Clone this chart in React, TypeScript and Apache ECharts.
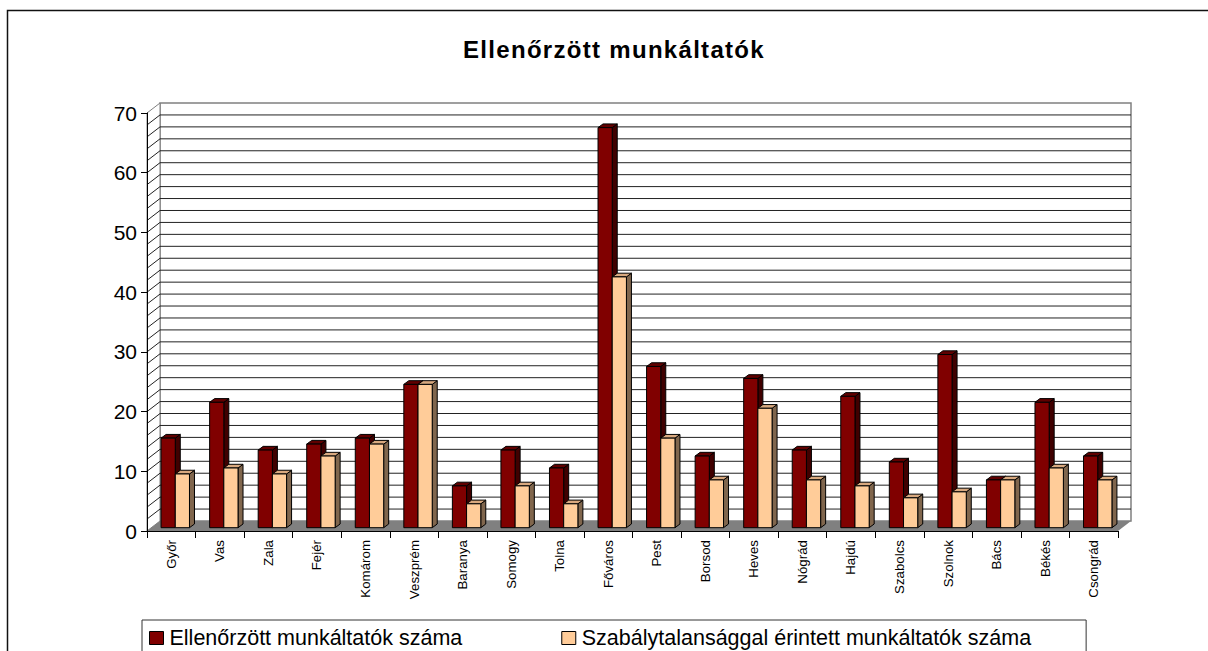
import React, { useEffect, useRef } from "react";
import * as echarts from "echarts";

const titleText = "Ellenőrzött munkáltatók";
const categories = ["Győr", "Vas", "Zala", "Fejér", "Komárom", "Veszprém", "Baranya", "Somogy", "Tolna", "Főváros", "Pest", "Borsod", "Heves", "Nógrád", "Hajdú", "Szabolcs", "Szolnok", "Bács", "Békés", "Csongrád"];
const seriesAName = "Ellenőrzött munkáltatók száma";
const seriesBName = "Szabálytalansággal érintett munkáltatók száma";
const seriesA = [15, 21, 13, 14, 15, 24, 7, 13, 10, 67, 27, 12, 25, 13, 22, 11, 29, 8, 21, 12];
const seriesB = [9, 10, 9, 12, 14, 24, 4, 7, 4, 42, 15, 8, 20, 8, 7, 5, 6, 8, 10, 8];
const gridValues = [2, 4, 6, 8, 10, 12, 14, 16, 18, 20, 22, 24, 26, 28, 30, 32, 34, 36, 38, 40, 42, 44, 46, 48, 50, 52, 54, 56, 58, 60, 62, 64, 66, 68];

const DX = 13;
const DY = -10;
const BAR_W = 14.2;
const BAR_DX0 = 4;
const BAR_DY0 = -3.3;
const BAR_DX1 = 9;
const BAR_DY1 = -7;

function barRenderer(side: number, front: string, top: string, right: string) {
  return (_params: any, api: any) => {
    const i = api.value(0);
    const v = api.value(1);
    const [cx, y1] = api.coord([i, v]);
    const [, y0] = api.coord([i, 0]);
    const xa = cx + BAR_DX0 + (side === 0 ? -BAR_W : 0);
    const xb = xa + BAR_W;
    const yt = y1 + BAR_DY0;
    const yb = y0 + BAR_DY0;
    const ddx = BAR_DX1 - BAR_DX0;
    const ddy = BAR_DY1 - BAR_DY0;
    const line = { stroke: "#000", lineWidth: 1 };
    return {
      type: "group",
      children: [
        { type: "polygon", shape: { points: [[xb, yt], [xb + ddx, yt + ddy], [xb + ddx, yb + ddy], [xb, yb]] }, style: { fill: right, ...line } },
        { type: "polygon", shape: { points: [[xa, yt], [xa + ddx, yt + ddy], [xb + ddx, yt + ddy], [xb, yt]] }, style: { fill: top, ...line } },
        { type: "rect", shape: { x: xa, y: yt, width: BAR_W, height: yb - yt }, style: { fill: front, ...line } },
      ],
    };
  };
}

export default function App() {
  const ref = useRef<HTMLDivElement>(null);
  useEffect(() => {
    document.body.style.margin = "0";
    const chart = echarts.init(ref.current!, null, { renderer: "svg" });
    const font = "Liberation Sans";
    chart.setOption({
      animation: false,
      backgroundColor: "#fff",
      title: {
        text: titleText,
        left: 609,
        top: 32,
        textAlign: "center",
        textStyle: { fontFamily: font, fontSize: 24, fontWeight: "bold", color: "#000" },
      },
      graphic: [
        { type: "rect", silent: true, z: -1, shape: { x: 7.5, y: 10.5, width: 1400, height: 900 }, style: { fill: "none", stroke: "#111", lineWidth: 1.5 } },
      ],
      legend: {
        left: 142,
        top: 620,
        orient: "horizontal",
        padding: [7, 55, 20, 7],
        itemGap: 99,
        itemWidth: 14,
        itemHeight: 13,
        borderColor: "#333",
        borderWidth: 1,
        textStyle: { fontFamily: font, fontSize: 21.5, color: "#000", padding: [0, 0, 0, 1] },
        data: [
          { name: seriesAName, icon: "rect", itemStyle: { color: "#800000", borderColor: "#000", borderWidth: 1 } },
          { name: seriesBName, icon: "rect", itemStyle: { color: "#FFCC99", borderColor: "#000", borderWidth: 1 } },
        ],
        selectedMode: false,
      },
      grid: { left: 147, top: 113, width: 971, height: 418 },
      xAxis: {
        type: "category",
        data: categories,
        z: 6,
        axisLine: { lineStyle: { color: "#000", width: 1 } },
        axisTick: { show: true, length: 7, alignWithLabel: false, lineStyle: { color: "#000" } },
        axisLabel: { rotate: 90, interval: 0, fontFamily: font, fontSize: 13.3, color: "#000", margin: 9 },
        splitLine: { show: false },
      },
      yAxis: {
        type: "value",
        min: 0,
        max: 70,
        interval: 10,
        z: 6,
        axisLine: { show: true, lineStyle: { color: "#000", width: 1 } },
        axisTick: { show: true, length: 6, lineStyle: { color: "#000" } },
        axisLabel: { fontFamily: font, fontSize: 21, color: "#000", margin: 10, padding: [2, 0, 0, 0] },
        splitLine: { show: false },
      },
      series: [
        {
          name: "wall",
          type: "custom",
          z: 1,
          silent: true,
          data: [[0, 70]],
          renderItem: (_p: any, api: any) => {
            const [x0, y0] = api.coord([0, 0]);
            const s = api.size([1, 0])[0];
            const x0Left = x0 - s / 2;
            const [, yT] = api.coord([0, 70]);
            const x1 = x0Left + s * categories.length;
            const wall = { stroke: "#808080", lineWidth: 1 };
            return {
              type: "group",
              children: [
                { type: "polygon", shape: { points: [[x0Left + DX, yT + DY], [x1 + DX, yT + DY], [x1 + DX, y0 + DY], [x0Left + DX, y0 + DY]] }, style: { fill: "#fff", ...wall, lineWidth: 1.5 } },
                { type: "polygon", shape: { points: [[x0Left, yT], [x0Left + DX, yT + DY], [x0Left + DX, y0 + DY], [x0Left, y0]] }, style: { fill: "#fff", ...wall } },
                { type: "polygon", shape: { points: [[x0Left, y0], [x1, y0], [x1 + DX, y0 + DY], [x0Left + DX, y0 + DY]] }, style: { fill: "#808080", stroke: "#000", lineWidth: 0 } },
              ],
            };
          },
        },
        {
          name: "gridlines",
          type: "custom",
          z: 2,
          silent: true,
          data: gridValues.map((v) => [0, v]),
          renderItem: (_p: any, api: any) => {
            const [cx, y] = api.coord([0, api.value(1)]);
            const s = api.size([1, 0])[0];
            const xl = cx - s / 2;
            const xr = xl + s * categories.length;
            const st = { stroke: "#222", lineWidth: 1 };
            return {
              type: "group",
              children: [
                { type: "line", shape: { x1: xl, y1: y, x2: xl + DX, y2: y + DY }, style: st },
                { type: "line", shape: { x1: xl + DX, y1: y + DY, x2: xr + DX, y2: y + DY }, style: st },
              ],
            };
          },
        },
        {
          name: seriesAName,
          type: "custom",
          z: 4,
          itemStyle: { color: "#800000" },
          data: seriesA.map((v, i) => [i, v]),
          renderItem: barRenderer(0, "#800000", "#600000", "#400000"),
        },
        {
          name: seriesBName,
          type: "custom",
          z: 5,
          itemStyle: { color: "#FFCC99" },
          data: seriesB.map((v, i) => [i, v]),
          renderItem: barRenderer(1, "#FFCC99", "#D9A97F", "#80664D"),
        },
      ],
    });
    ref.current!.querySelectorAll("text").forEach((t) => {
      if (t.textContent === titleText) (t as SVGTextElement).style.letterSpacing = "1.3px";
    });
    return () => chart.dispose();
  }, []);
  return <div ref={ref} style={{ position: "absolute", left: 0, top: 0, width: 1208, height: 651, overflow: "hidden" }} />;
}
